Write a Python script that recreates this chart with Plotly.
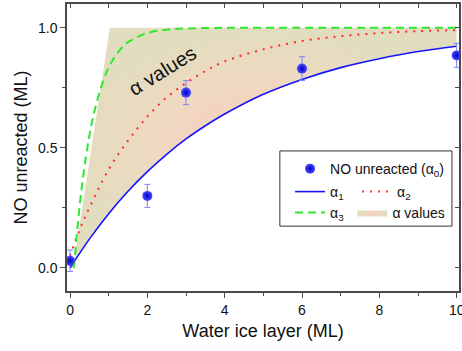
import plotly.graph_objects as go

# ---------------- data ----------------
x_pts = [0, 2, 3, 6, 10]
y_pts = [0.03, 0.30, 0.73, 0.83, 0.885]
err_pts = [0.045, 0.048, 0.05, 0.05, 0.05]

a1_x = [0, 0.5, 1, 1.5, 2, 2.5, 3, 3.5, 4, 5, 6, 7, 8, 9, 10]
a1_y = [0.0, 0.120, 0.226, 0.319, 0.401, 0.473, 0.537, 0.592, 0.641, 0.723, 0.785, 0.834, 0.871, 0.901, 0.923]

a2_x = [0, 0.25, 0.5, 1, 1.5, 2, 2.5, 3, 3.5, 4, 5, 6, 7, 8, 9, 10]
a2_y = [0.05, 0.16, 0.25, 0.41, 0.53, 0.63, 0.71, 0.77, 0.82, 0.86, 0.91, 0.945, 0.965, 0.978, 0.986, 0.99]

a3_x = [0.1, 0.2, 0.3, 0.4, 0.5, 0.6, 0.8, 1.0, 1.25, 1.5, 2, 2.5, 3, 4, 6, 8, 10]
a3_y = [0.0, 0.18, 0.33, 0.45, 0.55, 0.63, 0.75, 0.835, 0.90, 0.94, 0.978, 0.992, 0.997, 1.0, 1.0, 1.0, 1.0]

fill_top_x = [0.08, 1.03, 10]
fill_top_y = [0.0, 1.0, 1.0]

x_range = [-0.078, 10.06]
y_range = [-0.096, 1.099]

FONT = "Liberation Sans, Arial, sans-serif"

fig = go.Figure()

# shaded region of alpha values (upper boundary, then back along alpha1)
fig.add_trace(go.Scatter(
    x=fill_top_x + a1_x[::-1], y=fill_top_y + a1_y[::-1],
    fill="toself", mode="lines", line=dict(width=0, color="rgba(0,0,0,0)"),
    fillgradient=dict(type="radial",
                      colorscale=[[0, "#fdc8bc"], [0.55, "#efd9c0"], [1, "#e2ddbf"]]),
    name="α values", legend="legend4", hoverinfo="skip"))

fig.add_trace(go.Scatter(x=a1_x, y=a1_y, mode="lines", line=dict(color="#1414ff", width=1.6, shape="spline"),
                         name="α<sub>1</sub>", legend="legend2"))
fig.add_trace(go.Scatter(x=a2_x, y=a2_y, mode="lines", line=dict(color="#ff2a2a", width=2, dash="2px,6px", shape="spline"),
                         name="α<sub>2</sub>", legend="legend2"))
fig.add_trace(go.Scatter(x=a3_x, y=a3_y, mode="lines", line=dict(color="#2ee82e", width=2, dash="8px,5px", shape="spline"),
                         name="α<sub>3</sub>", legend="legend3"))

fig.add_trace(go.Scatter(
    x=x_pts, y=y_pts, mode="markers",
    marker=dict(size=10, color="#4a4aff", gradient=dict(type="radial", color="#0000c0"),
                line=dict(width=0)),
    error_y=dict(type="data", array=err_pts, color="#8080ff", thickness=1, width=3),
    name="NO unreacted (α<sub>0</sub>)", legend="legend"))

# invisible trace to create the mirrored top/right axes
fig.add_trace(go.Scatter(x=[x_range[0]], y=[y_range[0]], xaxis="x2", yaxis="y2",
                         mode="markers", marker=dict(opacity=0), showlegend=False, hoverinfo="skip"))

axis_col = "#4a4a4a"
leg_font = dict(size=14, family=FONT, color="#111")
fig.update_layout(
    width=462, height=351,
    margin=dict(l=67, r=3, t=4, b=60, autoexpand=False),
    paper_bgcolor="white", plot_bgcolor="white",
    font=dict(family=FONT, color="#111"),
    xaxis=dict(range=x_range, showgrid=False, zeroline=False, automargin=False,
               showline=True, linecolor=axis_col, linewidth=1.5,
               ticks="outside", ticklen=5, tickwidth=1.2, tickcolor=axis_col,
               tickmode="array", tickvals=[0, 2, 4, 6, 8, 10], ticklabeloverflow="allow",
               minor=dict(ticks="outside", ticklen=3, tickwidth=1.2, tickcolor=axis_col,
                          tickvals=[1, 3, 5, 7, 9], showgrid=False),
               tickfont=dict(size=14, color="#111"),
               title=dict(text="Water ice layer (ML)", font=dict(size=18, color="#111"), standoff=8)),
    yaxis=dict(range=y_range, showgrid=False, zeroline=False, automargin=False,
               showline=True, linecolor=axis_col, linewidth=1.5,
               ticks="outside", ticklen=5, tickwidth=1.2, tickcolor=axis_col,
               tickmode="array", tickvals=[0, 0.5, 1.0], ticktext=["0.0", "0.5", "1.0"],
               minor=dict(ticks="outside", ticklen=3, tickwidth=1.2, tickcolor=axis_col,
                          tickvals=[0.25, 0.75], showgrid=False),
               tickfont=dict(size=14, color="#111"),
               title=dict(text="NO unreacted (ML)", font=dict(size=18, color="#111"), standoff=6)),
    xaxis2=dict(range=x_range, overlaying="x", side="top", showgrid=False, zeroline=False,
                showline=True, linecolor=axis_col, linewidth=1.5, automargin=False,
                ticks="inside", ticklen=4, tickwidth=1.2, tickcolor=axis_col,
                tickmode="array", tickvals=[0, 1, 2, 3, 4, 5, 6, 7, 8, 9, 10], showticklabels=False),
    yaxis2=dict(range=y_range, overlaying="y", side="right", showgrid=False, zeroline=False,
                showline=True, linecolor=axis_col, linewidth=1.5, automargin=False,
                ticks="inside", ticklen=4, tickwidth=1.2, tickcolor=axis_col,
                tickmode="array", tickvals=[0, 0.25, 0.5, 0.75, 1.0], showticklabels=False),
    legend=dict(x=0.569, y=0.425, xanchor="left", yanchor="middle", bgcolor="rgba(0,0,0,0)",
                borderwidth=0, font=leg_font),
    legend2=dict(x=0.569, y=0.345, xanchor="left", yanchor="middle", orientation="h",
                 entrywidth=22, bgcolor="rgba(0,0,0,0)", borderwidth=0, font=leg_font),
    legend3=dict(x=0.569, y=0.272, xanchor="left", yanchor="middle",
                 bgcolor="rgba(0,0,0,0)", borderwidth=0, font=leg_font),
    legend4=dict(x=0.728, y=0.272, xanchor="left", yanchor="middle",
                 bgcolor="rgba(0,0,0,0)", borderwidth=0, font=leg_font),
    shapes=[dict(type="rect", xref="paper", yref="paper",
                 x0=0.543, x1=0.982, y0=0.226, y1=0.488,
                 line=dict(color="#333", width=1), fillcolor="rgba(255,255,255,1)", layer="below")],
    annotations=[dict(x=2.38, y=0.82, xref="x", yref="y", text="α values", showarrow=False,
                      textangle=-32, font=dict(size=20, family=FONT, color="#111"))],
)

fig.write_html("out.html")
